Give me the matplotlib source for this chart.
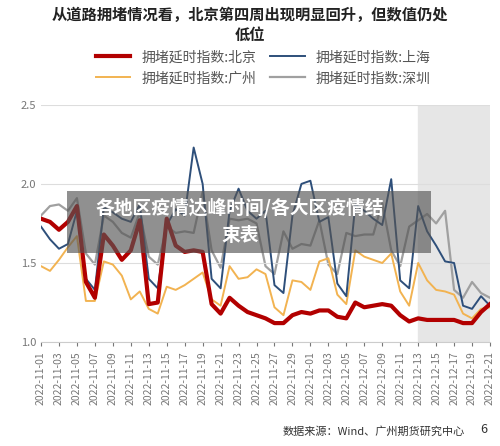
import datetime as dt
import matplotlib.pyplot as plt
import matplotlib.dates as mdates
from matplotlib.patches import Rectangle

plt.rcParams['font.family'] = ['Noto Sans CJK SC', 'DejaVu Sans']

dates = [dt.date(2022, 11, 1) + dt.timedelta(days=i) for i in range(51)]

beijing = [1.78, 1.76, 1.71, 1.76, 1.86, 1.38, 1.28, 1.68, 1.61, 1.52, 1.58, 1.77,
           1.24, 1.25, 1.78, 1.61, 1.57, 1.58, 1.57, 1.24, 1.18, 1.28, 1.23, 1.19,
           1.17, 1.15, 1.12, 1.12, 1.17, 1.19, 1.18, 1.20, 1.20, 1.16, 1.15, 1.25,
           1.22, 1.23, 1.24, 1.23, 1.17, 1.13, 1.15, 1.14, 1.14, 1.14, 1.14, 1.12,
           1.12, 1.19, 1.24]
shanghai = [1.73, 1.65, 1.59, 1.62, 1.83, 1.40, 1.33, 1.85, 1.82, 1.78, 1.76, 1.87,
            1.40, 1.34, 1.74, 1.84, 1.80, 2.23, 2.00, 1.40, 1.34, 1.83, 1.97, 1.83,
            1.78, 1.83, 1.36, 1.31, 1.80, 2.00, 2.02, 1.76, 1.79, 1.37, 1.29, 1.87,
            1.83, 1.78, 1.74, 2.03, 1.39, 1.34, 1.86, 1.70, 1.61, 1.51, 1.50, 1.23,
            1.21, 1.29, 1.23]
guangzhou = [1.48, 1.45, 1.52, 1.60, 1.67, 1.26, 1.26, 1.51, 1.49, 1.42, 1.27, 1.32,
             1.21, 1.18, 1.35, 1.33, 1.36, 1.40, 1.44, 1.27, 1.23, 1.48, 1.40, 1.41,
             1.46, 1.43, 1.22, 1.17, 1.39, 1.38, 1.33, 1.51, 1.53, 1.30, 1.24, 1.58,
             1.54, 1.52, 1.50, 1.56, 1.32, 1.23, 1.50, 1.39, 1.33, 1.32, 1.30, 1.18,
             1.15, 1.21, 1.22]
shenzhen = [1.80, 1.86, 1.87, 1.83, 1.91, 1.56, 1.49, 1.80, 1.76, 1.69, 1.66, 1.82,
            1.54, 1.49, 1.73, 1.69, 1.70, 1.69, 1.95, 1.58, 1.47, 1.78, 1.77, 1.78,
            1.75, 1.48, 1.43, 1.70, 1.59, 1.62, 1.61, 1.77, 1.49, 1.43, 1.69, 1.67,
            1.68, 1.68, 1.88, 1.58, 1.48, 1.73, 1.77, 1.81, 1.75, 1.83, 1.33, 1.28,
            1.38, 1.31, 1.28]

fig = plt.figure(figsize=(5.0, 4.46), dpi=100)
ax = fig.add_axes([0.082, 0.233, 0.898, 0.532])

ax.axvspan(dates[42] - dt.timedelta(hours=12), dates[50] + dt.timedelta(hours=3),
           color='#e6e6e6', zorder=0)
ax.plot(dates, beijing, color='#b20000', lw=3, label='拥堵延时指数:北京', zorder=4)
ax.plot(dates, guangzhou, color='#f2b351', lw=1.4, label='拥堵延时指数:广州', zorder=2)
ax.plot(dates, shanghai, color='#2e4f7a', lw=1.4, label='拥堵延时指数:上海', zorder=3)
ax.plot(dates, shenzhen, color='#a0a0a0', lw=1.6, label='拥堵延时指数:深圳', zorder=1)

ax.set_ylim(1.0, 2.5)
ax.set_yticks([1.0, 1.5, 2.0, 2.5])
ax.set_xlim(dates[0] - dt.timedelta(hours=6), dates[50] + dt.timedelta(hours=6))
ax.set_xticks(dates[::2])
ax.xaxis.set_major_formatter(mdates.DateFormatter('%Y-%m-%d'))
ax.tick_params(axis='x', rotation=90, labelsize=7.5, colors='#777777', length=3)
ax.tick_params(axis='y', labelsize=8, colors='#777777', length=0)
ax.grid(True, axis='y', color='#dddddd', lw=0.8)
for s in ['top', 'right', 'left']:
    ax.spines[s].set_visible(False)
ax.spines['bottom'].set_color('#cccccc')

fig.legend(loc='upper left', bbox_to_anchor=(0.18, 0.9), ncol=2, frameon=False,
           fontsize=10, labelcolor='#555555', handlelength=2.5, columnspacing=1.0,
           borderaxespad=0)

fig.text(0.5, 0.985, '从道路拥堵情况看，北京第四周出现明显回升，但数值仍处\n低位',
         ha='center', va='top', fontsize=11, fontweight='bold', color='#222222',
         linespacing=1.3)
fig.text(0.93, 0.025, '数据来源：Wind、广州期货研究中心', ha='right', fontsize=8,
         color='#333333')
fig.text(0.975, 0.03, '6', ha='right', fontsize=9, color='#333333')

fig.patches.append(Rectangle((0.134, 0.432), 0.727, 0.14, transform=fig.transFigure,
                             facecolor='#555555', alpha=0.65, edgecolor='none', zorder=10))
fig.text(0.48, 0.533, '各地区疫情达峰时间/各大区疫情结', ha='center', va='center',
         fontsize=13.5, fontweight='bold', color='white', zorder=11)
fig.text(0.48, 0.473, '束表', ha='center', va='center',
         fontsize=13.5, fontweight='bold', color='white', zorder=11)

fig.savefig('out.png')
